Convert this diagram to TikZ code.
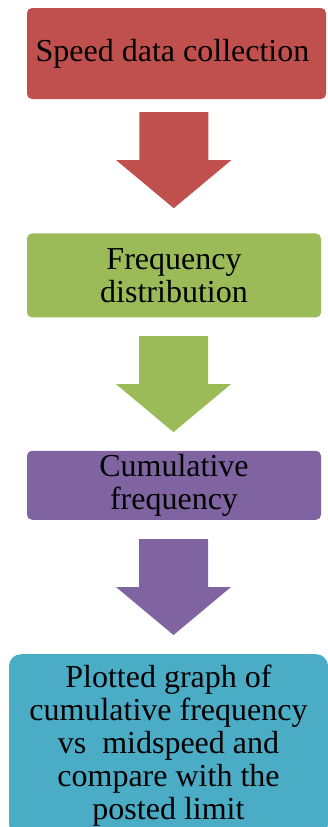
\documentclass[tikz,border=0pt]{standalone}
\usepackage{fontspec}
\setmainfont{Liberation Serif}
\usetikzlibrary{
  positioning,
  calc}
\definecolor{speedcolor}{RGB}{192,80,77}
\definecolor{freqcolor}{RGB}{155,187,89}
\definecolor{cumulcolor}{RGB}{128,100,162}
\definecolor{plotcolor}{RGB}{75,172,198}
\tikzset{
  %% blockarrow : the broad arrow between two boxes
  blockarrow/.pic = {
    \path [pic actions] (-34.5, -48) -- (34.5, -48) -- (34.5, 0)
      -- (57.5, 0) -- (0, 48) -- (-57.5, 0) -- (-34.5, 0) -- cycle;
  }
}
\tikzset{
  %% stage : one stage of the procedure
  stage/.style={
    rectangle,
    rounded corners=5pt,
    minimum width=294pt,
    minimum height=84pt,
    inner sep=0pt,
    font=\fontsize{32}{33}\selectfont,
    align=center
  },
  %% result : the last stage
  result/.style={
    stage,
    rounded corners=12pt,
    minimum width=319pt,
    minimum height=182pt
  }
}
\begin{document}
\begin{tikzpicture}
  [x=1pt,
  y=-1pt]

  \useasboundingbox (0, 0) rectangle (327, 827);

  %% Stages
  \node (speed) [stage, fill=speedcolor, minimum width=299pt,
    minimum height=91pt] at (176.5, 53.5) {%
    Speed data collection
  };

  \node (freq) [below=134pt of speed, xshift=-2.5pt, stage, fill=freqcolor]{%
    Frequency \\ distribution
  };

  \node (cumul) [below=133pt of freq, stage, fill=cumulcolor, minimum height=69pt]{%
    Cumulative \\ frequency
  };

  \node (plot) [below=134pt of cumul, xshift=-5.5pt, result, fill=plotcolor]{%
    Plotted graph of \\
    cumulative frequency \\
    vs~~midspeed and \\
    compare with the \\
    posted limit
  };

  %% Arrows
  \pic [fill=speedcolor] at ($(speed.south)!0.5!(freq.north) + (-1.5, -6)$) {blockarrow};
  \pic [fill=freqcolor] at ($(freq.south)!0.5!(cumul.north) + (-0.5, 0)$) {blockarrow};
  \pic [fill=cumulcolor] at ($(cumul.south)!0.5!(plot.north) + (2.25, 0)$) {blockarrow};

\end{tikzpicture}
\end{document}
